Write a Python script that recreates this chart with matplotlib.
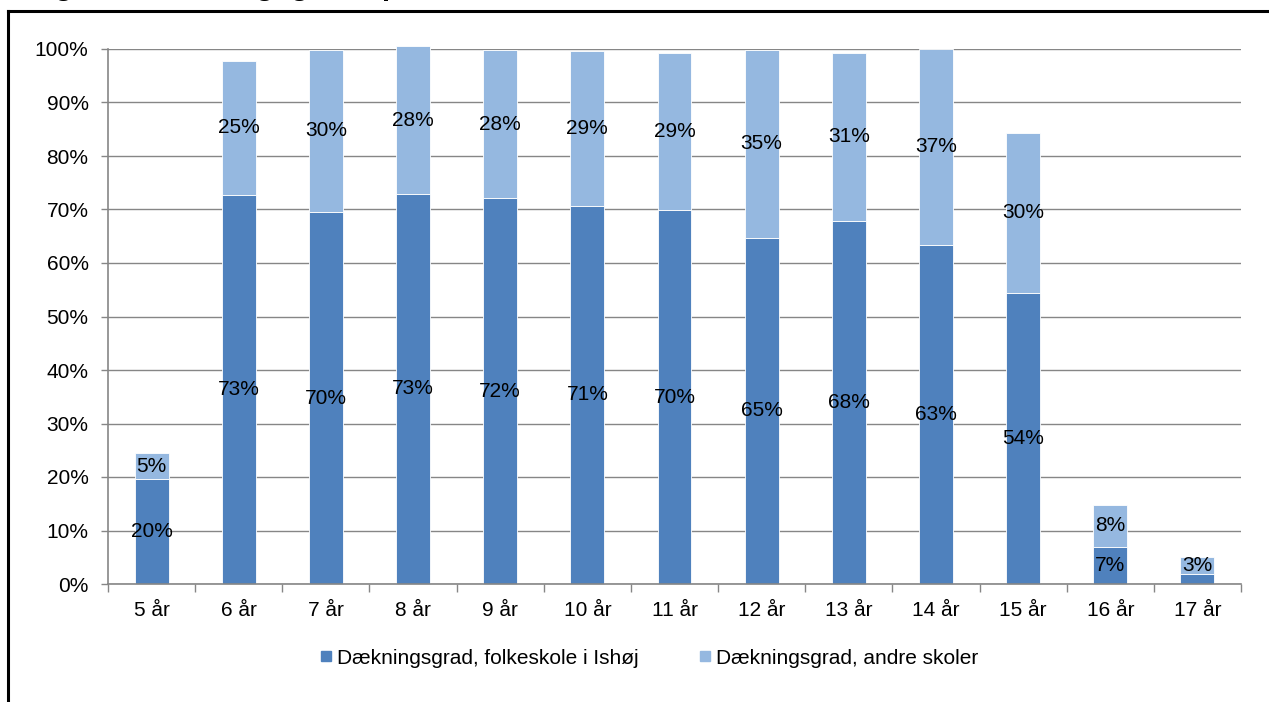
import matplotlib
matplotlib.use("Agg")
import matplotlib.pyplot as plt
from matplotlib.lines import Line2D
import numpy as np

categories = ["5 år", "6 år", "7 år", "8 år", "9 år", "10 år", "11 år", "12 år",
              "13 år", "14 år", "15 år", "16 år", "17 år"]
folkeskole = [19.6, 72.7, 69.5, 72.9, 72.1, 70.7, 69.9, 64.7, 67.9, 63.4, 54.4, 6.9, 1.9]
andre = [4.9, 25.1, 30.4, 27.6, 27.7, 28.9, 29.4, 35.1, 31.4, 36.6, 29.9, 7.9, 3.1]
series_names = ["Dækningsgrad, folkeskole i Ishøj", "Dækningsgrad, andre skoler"]
yticks = [0, 10, 20, 30, 40, 50, 60, 70, 80, 90, 100]
title_text = "Figur 3: Dækningsgrad opdelt efter alder"

plt.rcParams["font.family"] = ["Liberation Sans", "DejaVu Sans"]
FS = 15
W, H = 1269, 702
fig = plt.figure(figsize=(W / 100, H / 100), dpi=100)
ax = fig.add_axes([108 / W, (H - 584) / H, (1241 - 108) / W, (584 - 49) / H])

dark = "#4F81BD"
light = "#95B8E0"
x = np.arange(len(categories))
bw = 0.39
ax.bar(x, folkeskole, bw, color=dark, edgecolor="white", linewidth=0.6, zorder=3, clip_on=False)
ax.bar(x, andre, bw, bottom=folkeskole, color=light, edgecolor="white", linewidth=0.6, zorder=3, clip_on=False)

for i in range(len(categories)):
    if folkeskole[i] >= 3:
        ax.text(x[i], folkeskole[i] / 2, f"{round(folkeskole[i]):d}%", ha="center", va="center",
                fontsize=FS, color="black", zorder=4)
    ax.text(x[i], folkeskole[i] + andre[i] / 2, f"{round(andre[i]):d}%", ha="center", va="center",
            fontsize=FS, color="black", zorder=4)

ax.set_xlim(-0.5, len(categories) - 0.5)
ax.set_ylim(0, 100)
ax.set_yticks(yticks)
ax.set_yticklabels([f"{t}%" for t in yticks], fontsize=FS)
ax.set_xticks(x)
ax.set_xticklabels(categories, fontsize=FS)
ax.set_xticks(np.arange(-0.5, len(categories)), minor=True)
ax.tick_params(axis="x", which="major", length=0, pad=12)
ax.tick_params(axis="x", which="minor", length=6, color="#868686", width=1)
ax.tick_params(axis="y", length=5, color="#868686", width=1, pad=9)
ax.grid(axis="y", color="#868686", linewidth=1, zorder=0)
for s in ["top", "right"]:
    ax.spines[s].set_visible(False)
for s in ["left", "bottom"]:
    ax.spines[s].set_color("#868686")
    ax.spines[s].set_linewidth(1.2)
    ax.spines[s].set_zorder(5)

handles = [Line2D([], [], marker="s", linestyle="none", markersize=6.5, color=dark),
           Line2D([], [], marker="s", linestyle="none", markersize=6.5, color=light)]
fig.legend(handles, series_names, loc="center", bbox_to_anchor=(648 / W, (H - 658) / H), ncol=2,
           frameon=False, fontsize=FS, handletextpad=0.1, columnspacing=2.8, handlelength=0.8)

# outer frame
fig.add_artist(Line2D([8 / W, 8 / W], [0, (H - 11) / H], color="black", linewidth=2.2))
fig.add_artist(Line2D([8 / W, 1], [(H - 11) / H, (H - 11) / H], color="black", linewidth=2.2))

# title, mostly cut off at top of the image (as in the reference)
fig.text(28 / W, 1 + 5 / H, title_text, fontsize=21.5, fontweight="bold", ha="left", va="baseline")

fig.savefig("out.png", dpi=100)
